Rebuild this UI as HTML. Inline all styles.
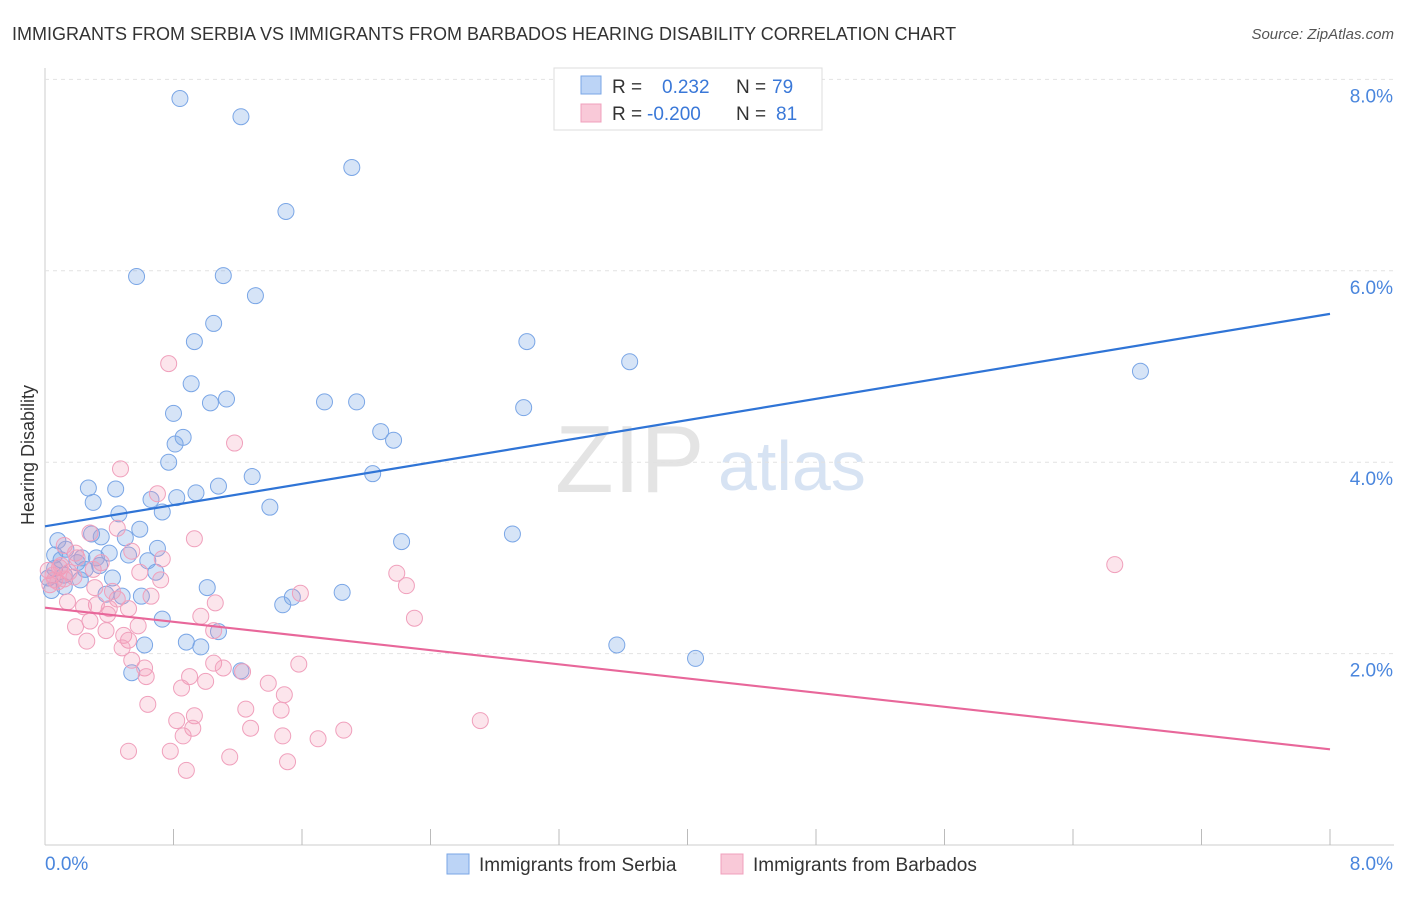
<!DOCTYPE html>
<html><head><meta charset="utf-8"><style>
body{margin:0;background:#fff;font-family:"Liberation Sans",sans-serif;}
svg text{font-family:"Liberation Sans",sans-serif;}
</style></head><body>
<svg id="chart" width="1406" height="892" xmlns="http://www.w3.org/2000/svg">
<text x="12" y="40" font-size="18" fill="#333">IMMIGRANTS FROM SERBIA VS IMMIGRANTS FROM BARBADOS HEARING DISABILITY CORRELATION CHART</text>
<text x="1394" y="39" font-size="15" fill="#555" font-style="italic" text-anchor="end">Source: ZipAtlas.com</text>
<text x="555" y="492" font-size="96" fill="#e4e4e4" font-family="Liberation Serif">ZIP</text>
<text x="718" y="490" font-size="70" fill="#d7e3f3">atlas</text>
<text transform="translate(34,455) rotate(-90)" font-size="18" fill="#333" text-anchor="middle">Hearing Disability</text>
<g id="grid"></g><g id="pts"></g><g id="lines"></g>
<g>
<rect x="554" y="68" width="268" height="62" fill="#fff" stroke="#ddd"/>
<rect x="581" y="76" width="20" height="18" fill="#bcd4f6" stroke="#7aa6e6"/>
<text x="612" y="93" font-size="19" fill="#333">R =</text><text x="662" y="93" font-size="19" fill="#3a78d8">0.232</text>
<text x="736" y="93" font-size="19" fill="#333">N =</text><text x="772" y="93" font-size="19" fill="#3a78d8">79</text>
<rect x="581" y="104" width="20" height="18" fill="#f9c9d8" stroke="#f0a0bc"/>
<text x="612" y="120" font-size="19" fill="#333">R =</text><text x="647" y="120" font-size="19" fill="#3a78d8">-0.200</text>
<text x="736" y="120" font-size="19" fill="#333">N =</text><text x="776" y="120" font-size="19" fill="#3a78d8">81</text>
</g>
<g>
<rect x="447" y="854" width="22" height="20" fill="#bcd4f6" stroke="#7aa6e6"/>
<text x="479" y="871" font-size="19" fill="#333">Immigrants from Serbia</text>
<rect x="721" y="854" width="22" height="20" fill="#f9c9d8" stroke="#f0a0bc"/>
<text x="753" y="871" font-size="19" fill="#333">Immigrants from Barbados</text>
</g>
</svg>
<script>
const yTicks=[2,4,6,8];
const xTickLabels=["0.0%","8.0%"];
const serbiaX=[0.84,1.22,1.91,1.50,0.57,1.11,1.31,1.05,0.93,3.00,3.64,6.82,0.91,1.13,1.03,1.74,1.94,2.98,0.80,2.09,2.17,0.86,0.81,0.77,2.04,1.29,1.08,0.27,0.44,0.94,0.82,0.66,0.30,1.40,0.73,0.46,0.59,2.91,0.29,0.50,0.08,2.22,0.70,0.40,0.52,0.64,0.34,0.69,0.42,1.01,1.85,0.38,0.60,1.54,1.48,0.73,1.08,0.88,0.62,3.56,0.97,4.05,0.54,1.22,0.35,0.13,0.06,0.23,0.32,0.20,0.06,0.12,0.02,0.22,0.12,0.48,0.04,0.10,0.25];
const serbiaY=[7.80,7.61,7.08,6.62,5.94,5.95,5.74,5.45,5.26,5.26,5.05,4.95,4.82,4.66,4.62,4.63,4.63,4.57,4.51,4.32,4.23,4.26,4.19,4.00,3.88,3.85,3.75,3.73,3.72,3.68,3.63,3.61,3.58,3.53,3.48,3.46,3.30,3.25,3.25,3.21,3.18,3.17,3.10,3.05,3.03,2.97,2.92,2.85,2.79,2.69,2.64,2.62,2.60,2.59,2.51,2.36,2.23,2.12,2.09,2.09,2.07,1.95,1.80,1.82,3.22,3.09,3.03,3.00,3.00,2.95,2.89,2.82,2.79,2.77,2.70,2.60,2.66,2.98,2.88];
const barbadosX=[0.77,1.18,0.47,0.70,0.93,6.66,2.19,2.25,1.59,1.06,0.97,2.30,0.28,0.45,0.12,0.54,0.19,0.73,0.59,0.02,0.09,0.06,0.72,0.31,0.18,0.45,0.32,0.24,0.40,0.52,0.39,0.14,0.28,0.19,0.58,0.38,0.49,1.05,0.26,0.52,0.48,0.54,1.05,1.11,1.58,0.62,1.23,0.63,0.90,1.00,0.85,1.39,1.49,0.64,1.25,0.93,0.82,2.71,1.47,0.92,1.28,1.86,0.86,1.48,1.70,0.52,0.78,1.15,1.51,0.88,0.05,0.10,0.15,0.03,0.35,0.20,0.08,0.66,0.42,0.30,0.12];
const barbadosY=[5.03,4.20,3.93,3.67,3.20,2.93,2.84,2.71,2.63,2.53,2.39,2.37,3.26,3.31,3.13,3.07,3.05,2.99,2.85,2.87,2.90,2.77,2.77,2.69,2.80,2.57,2.51,2.49,2.47,2.47,2.41,2.54,2.34,2.28,2.29,2.24,2.19,2.24,2.13,2.14,2.06,1.93,1.90,1.85,1.89,1.85,1.81,1.76,1.76,1.71,1.64,1.69,1.57,1.47,1.42,1.35,1.30,1.30,1.41,1.22,1.22,1.20,1.14,1.14,1.11,0.98,0.98,0.92,0.87,0.78,2.82,2.92,2.85,2.72,2.95,3.00,2.75,2.60,2.65,2.88,2.78];
const serbiaTrend=[3.33,5.55];
const barbadosTrend=[2.48,1.00];
const X0=45,X1=1330,Y0=845,PX=95.7;
const sx=v=>X0+(v/8)*(X1-X0);
const sy=v=>Y0-v*PX;
const NS="http://www.w3.org/2000/svg";
function mk(tag,attrs,parent){const e=document.createElementNS(NS,tag);for(const k in attrs)e.setAttribute(k,attrs[k]);parent.appendChild(e);return e;}
const grid=document.getElementById('grid');
const xa=mk('line',{x1:X0,y1:68,x2:X0,y2:Y0,stroke:'#ccc'},grid);


const xb=mk('line',{x1:X0,y1:Y0,x2:1394,y2:Y0,stroke:'#ccc'},grid);


yTicks.forEach(t=>{
 const g=mk('line',{x1:X0,y1:sy(t),x2:1394,y2:sy(t),stroke:'#e2e2e2','stroke-dasharray':'4,4'},grid);
 
 
 const tx=mk('text',{x:1393,y:sy(t)+23,'font-size':19,fill:'#4a86dd','text-anchor':'end'},grid);
 tx.textContent=t.toFixed(1)+'%';
 
 
});
for(let i=1;i<=10;i++){const x=X0+i*(X1-X0)/10;
 const tk=mk('line',{x1:x,y1:Y0-16,x2:x,y2:Y0,stroke:'#bbb'},grid);
 
 }
const l0=mk('text',{x:45,y:870,'font-size':19,fill:'#4a86dd'},grid);l0.textContent=xTickLabels[0];


const l1=mk('text',{x:1393,y:870,'font-size':19,fill:'#4a86dd','text-anchor':'end'},grid);l1.textContent=xTickLabels[1];


const pts=document.getElementById('pts');
serbiaX.forEach((x,i)=>{const c=mk('circle',{cx:sx(x),cy:sy(serbiaY[i]),r:8,fill:'rgba(120,165,230,0.3)',stroke:'#7aa6e6','stroke-width':1},pts);
 
 });
barbadosX.forEach((x,i)=>{const c=mk('circle',{cx:sx(x),cy:sy(barbadosY[i]),r:8,fill:'rgba(244,150,180,0.25)',stroke:'#f0a0bc','stroke-width':1},pts);
 
 });
const lines=document.getElementById('lines');
const bl=mk('line',{x1:sx(0),y1:sy(serbiaTrend[0]),x2:sx(8),y2:sy(serbiaTrend[1]),stroke:'#2f74d6','stroke-width':2.2},lines);


const pl=mk('line',{x1:sx(0),y1:sy(barbadosTrend[0]),x2:sx(8),y2:sy(barbadosTrend[1]),stroke:'#e8679a','stroke-width':2.2},lines);


</script>
</body></html>
